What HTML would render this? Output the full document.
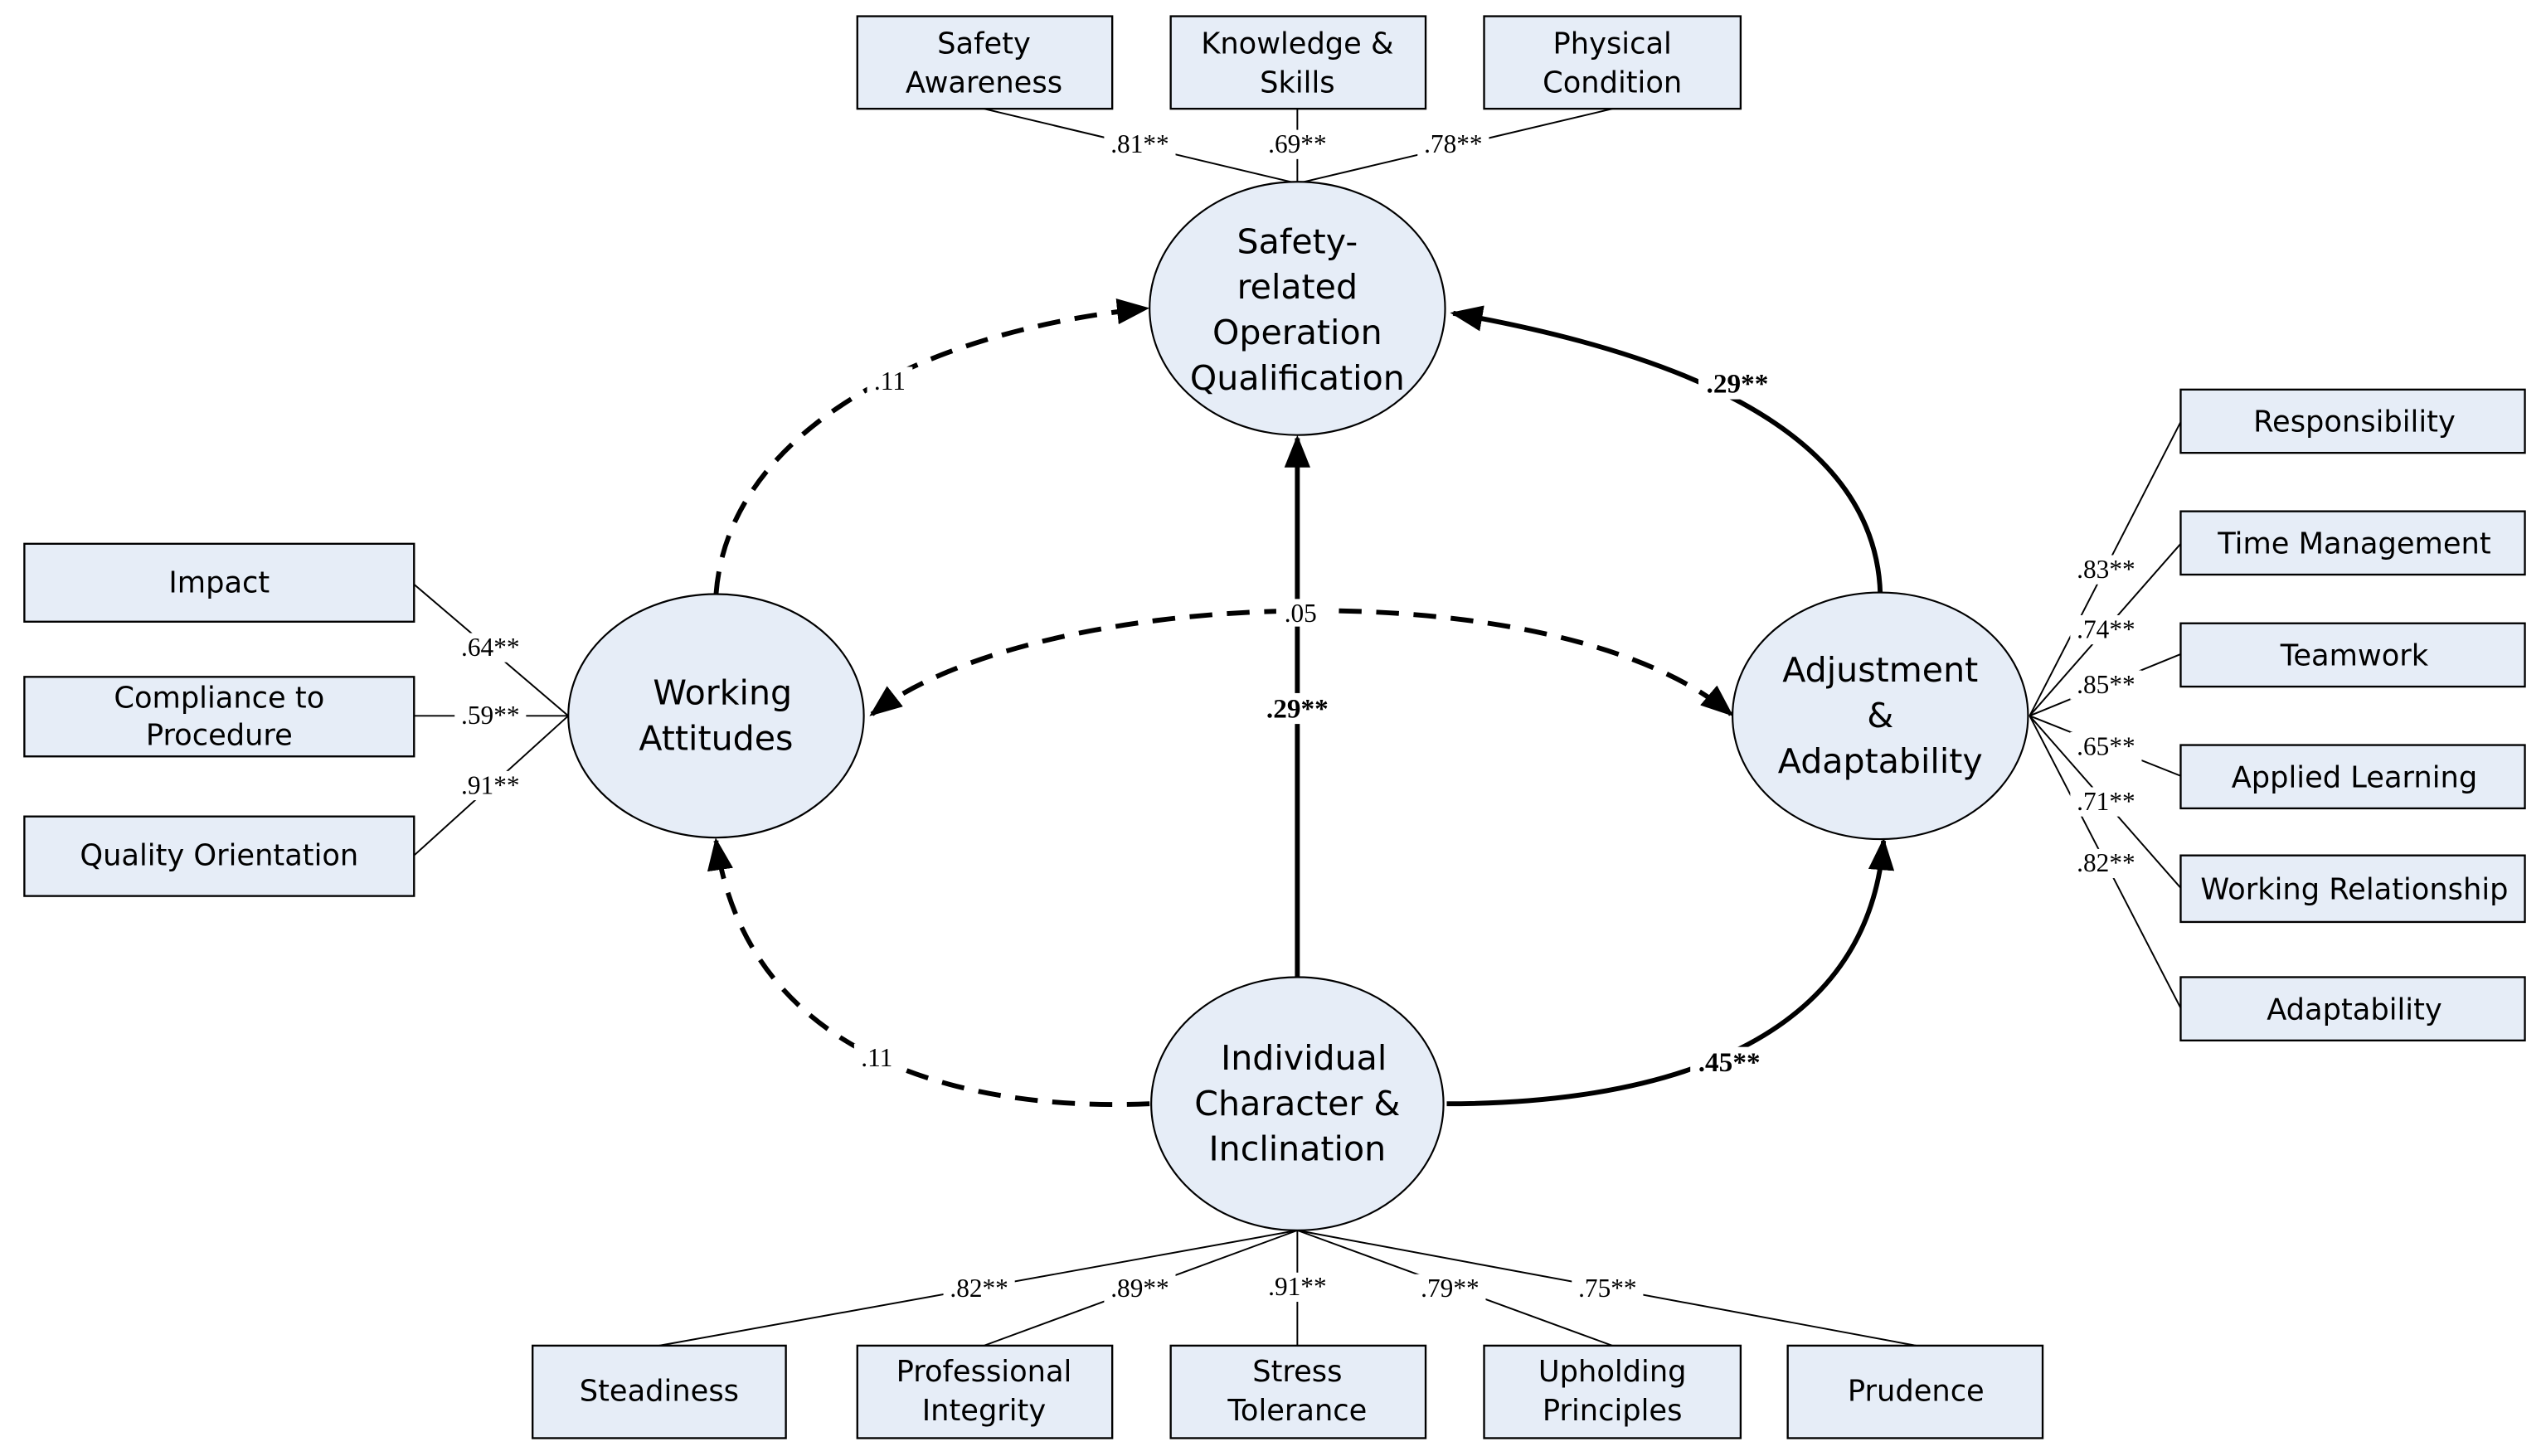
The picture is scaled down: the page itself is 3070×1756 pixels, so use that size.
<!DOCTYPE html>
<html><head><meta charset="utf-8"><style>
html,body{margin:0;padding:0;background:#fff;}
svg{display:block;}
.bx{fill:#e6edf7;stroke:#000;stroke-width:1.2;}
.el{fill:#e6edf7;stroke:#000;stroke-width:1.1;}
.t{font-family:"DejaVu Sans","Liberation Sans",sans-serif;font-size:18px;text-anchor:middle;fill:#000;}
.et{font-family:"DejaVu Sans","Liberation Sans",sans-serif;font-size:21px;text-anchor:middle;fill:#000;}
.l{font-family:"Liberation Serif",serif;font-size:16px;text-anchor:middle;fill:#000;}
.lb{font-family:"Liberation Serif",serif;font-size:17px;font-weight:bold;text-anchor:middle;fill:#000;}
.ln{stroke:#000;stroke-width:1;fill:none;}
.bg{fill:#fff;}
.dash{stroke:#000;stroke-width:3;fill:none;stroke-dasharray:14,9;}
.sol{stroke:#000;stroke-width:3;fill:none;}
</style></head><body>
<svg width="3070" height="1756" viewBox="0 0 1568 897" preserveAspectRatio="none" xmlns="http://www.w3.org/2000/svg">
<defs>
<marker id="a" markerUnits="userSpaceOnUse" markerWidth="20" markerHeight="16" refX="18" refY="8" orient="auto"><path d="M0,0 L20,8 L0,16 z" fill="#000"/></marker>
<marker id="as" markerUnits="userSpaceOnUse" markerWidth="20" markerHeight="16" refX="2" refY="8" orient="auto"><path d="M20,0 L0,8 L20,16 z" fill="#000"/></marker>
</defs>

<line class="ln" x1="606" y1="67" x2="799" y2="113"/>
<line class="ln" x1="799" y1="67" x2="799" y2="113"/>
<line class="ln" x1="993" y1="67" x2="799" y2="113"/>
<line class="ln" x1="255" y1="360" x2="350" y2="441"/>
<line class="ln" x1="255" y1="441" x2="350" y2="441"/>
<line class="ln" x1="255" y1="527" x2="350" y2="441"/>
<line class="ln" x1="1250" y1="441" x2="1343" y2="260"/>
<line class="ln" x1="1250" y1="441" x2="1343" y2="335"/>
<line class="ln" x1="1250" y1="441" x2="1343" y2="403"/>
<line class="ln" x1="1250" y1="441" x2="1343" y2="478"/>
<line class="ln" x1="1250" y1="441" x2="1343" y2="547"/>
<line class="ln" x1="1250" y1="441" x2="1343" y2="621"/>
<line class="ln" x1="799" y1="758" x2="406" y2="829"/>
<line class="ln" x1="799" y1="758" x2="606" y2="829"/>
<line class="ln" x1="799" y1="758" x2="799" y2="829"/>
<line class="ln" x1="799" y1="758" x2="993" y2="829"/>
<line class="ln" x1="799" y1="758" x2="1180" y2="829"/>

<path class="dash" d="M441,366 C448,270 560,205 706,190" marker-end="url(#a)"/>
<path class="sol" d="M1158,366 C1155,260 1020,215 895,193" marker-end="url(#a)"/>
<path class="sol" d="M799,603 L799,270" marker-end="url(#a)"/>
<path class="dash" d="M708,680 C590,685 460,650 441,518" marker-end="url(#a)"/>
<path class="sol" d="M891,680 C1010,680 1150,650 1160,518" marker-end="url(#a)"/>
<path class="dash" d="M537,440 C640,360 960,350 1066,440" marker-start="url(#as)" marker-end="url(#a)"/>

<ellipse class="el" cx="799" cy="190" rx="91" ry="78"/>
<ellipse class="el" cx="441" cy="441" rx="91" ry="75"/>
<ellipse class="el" cx="1158" cy="441" rx="91" ry="76"/>
<ellipse class="el" cx="799" cy="680" rx="90" ry="78"/>
<text class="et" x="799" y="156">Safety-</text>
<text class="et" x="799" y="184">related</text>
<text class="et" x="799" y="212">Operation</text>
<text class="et" x="799" y="240">Qualification</text>
<text class="et" x="445" y="434">Working</text>
<text class="et" x="441" y="462">Attitudes</text>
<text class="et" x="1158" y="420">Adjustment</text>
<text class="et" x="1158" y="448">&amp;</text>
<text class="et" x="1158" y="476">Adaptability</text>
<text class="et" x="803" y="659">Individual</text>
<text class="et" x="799" y="687">Character &amp;</text>
<text class="et" x="799" y="715">Inclination</text>

<rect class="bx" x="528" y="10" width="157" height="57"/><text class="t" x="606" y="33">Safety</text><text class="t" x="606" y="57">Awareness</text>
<rect class="bx" x="721" y="10" width="157" height="57"/><text class="t" x="799" y="33">Knowledge &amp;</text><text class="t" x="799" y="57">Skills</text>
<rect class="bx" x="914" y="10" width="158" height="57"/><text class="t" x="993" y="33">Physical</text><text class="t" x="993" y="57">Condition</text>

<rect class="bx" x="15" y="335" width="240" height="48"/><text class="t" x="135" y="365">Impact</text>
<rect class="bx" x="15" y="417" width="240" height="49"/><text class="t" x="135" y="436">Compliance to</text><text class="t" x="135" y="459">Procedure</text>
<rect class="bx" x="15" y="503" width="240" height="49"/><text class="t" x="135" y="533">Quality Orientation</text>

<rect class="bx" x="1343" y="240" width="212" height="39"/><text class="t" x="1450" y="266">Responsibility</text>
<rect class="bx" x="1343" y="315" width="212" height="39"/><text class="t" x="1450" y="341">Time Management</text>
<rect class="bx" x="1343" y="384" width="212" height="39"/><text class="t" x="1450" y="410">Teamwork</text>
<rect class="bx" x="1343" y="459" width="212" height="39"/><text class="t" x="1450" y="485">Applied Learning</text>
<rect class="bx" x="1343" y="527" width="212" height="41"/><text class="t" x="1450" y="554">Working Relationship</text>
<rect class="bx" x="1343" y="602" width="212" height="39"/><text class="t" x="1450" y="628">Adaptability</text>

<rect class="bx" x="328" y="829" width="156" height="57"/><text class="t" x="406" y="863">Steadiness</text>
<rect class="bx" x="528" y="829" width="157" height="57"/><text class="t" x="606" y="851">Professional</text><text class="t" x="606" y="875">Integrity</text>
<rect class="bx" x="721" y="829" width="157" height="57"/><text class="t" x="799" y="851">Stress</text><text class="t" x="799" y="875">Tolerance</text>
<rect class="bx" x="914" y="829" width="158" height="57"/><text class="t" x="993" y="851">Upholding</text><text class="t" x="993" y="875">Principles</text>
<rect class="bx" x="1101" y="829" width="157" height="57"/><text class="t" x="1180" y="863">Prudence</text>

<g>
<rect class="bg" x="680" y="80" width="44" height="18"/><text class="l" x="702" y="94">.81**</text>
<rect class="bg" x="777" y="80" width="44" height="18"/><text class="l" x="799" y="94">.69**</text>
<rect class="bg" x="873" y="80" width="44" height="18"/><text class="l" x="895" y="94">.78**</text>
<rect class="bg" x="280" y="390" width="44" height="18"/><text class="l" x="302" y="404">.64**</text>
<rect class="bg" x="280" y="432" width="44" height="18"/><text class="l" x="302" y="446">.59**</text>
<rect class="bg" x="280" y="475" width="44" height="18"/><text class="l" x="302" y="489">.91**</text>
<rect class="bg" x="1275" y="342" width="44" height="18"/><text class="l" x="1297" y="356">.83**</text>
<rect class="bg" x="1275" y="379" width="44" height="18"/><text class="l" x="1297" y="393">.74**</text>
<rect class="bg" x="1275" y="413" width="44" height="18"/><text class="l" x="1297" y="427">.85**</text>
<rect class="bg" x="1275" y="451" width="44" height="18"/><text class="l" x="1297" y="465">.65**</text>
<rect class="bg" x="1275" y="485" width="44" height="18"/><text class="l" x="1297" y="499">.71**</text>
<rect class="bg" x="1275" y="523" width="44" height="18"/><text class="l" x="1297" y="537">.82**</text>
<rect class="bg" x="581" y="785" width="44" height="18"/><text class="l" x="603" y="799">.82**</text>
<rect class="bg" x="680" y="785" width="44" height="18"/><text class="l" x="702" y="799">.89**</text>
<rect class="bg" x="777" y="784" width="44" height="18"/><text class="l" x="799" y="798">.91**</text>
<rect class="bg" x="871" y="785" width="44" height="18"/><text class="l" x="893" y="799">.79**</text>
<rect class="bg" x="968" y="785" width="44" height="18"/><text class="l" x="990" y="799">.75**</text>
<rect class="bg" x="534" y="226" width="28" height="18"/><text class="l" x="548" y="240">.11</text>
<rect class="bg" x="526" y="643" width="28" height="18"/><text class="l" x="540" y="657">.11</text>
<rect class="bg" x="786" y="369" width="30" height="17"/><text class="l" x="801" y="383">.05</text>
<rect class="bg" x="1046" y="227" width="48" height="19"/><text class="lb" x="1070" y="242">.29**</text>
<rect class="bg" x="775" y="427" width="48" height="19"/><text class="lb" x="799" y="442">.29**</text>
<rect class="bg" x="1041" y="645" width="48" height="19"/><text class="lb" x="1065" y="660">.45**</text>
</g>
</svg>
</body></html>
